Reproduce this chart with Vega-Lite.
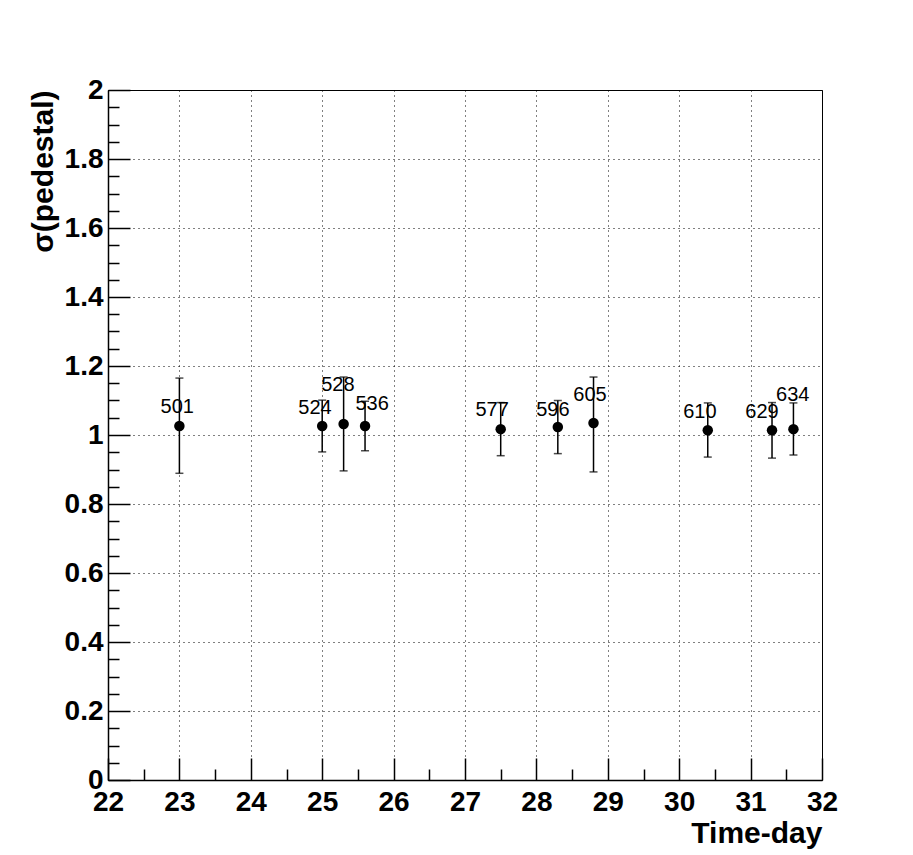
{
  "$schema": "https://vega.github.io/schema/vega-lite/v6.json",
  "width": 714,
  "height": 690,
  "autosize": "none",
  "padding": {"left": 108, "top": 90, "right": 91, "bottom": 75},
  "background": "white",
  "config": {
    "view": {"stroke": "#000", "strokeWidth": 1},
    "axis": {
      "domainColor": "#000",
      "domainWidth": 1.5,
      "tickColor": "#000",
      "tickWidth": 1.5,
      "labelFont": "Liberation Sans",
      "labelFontWeight": "bold",
      "labelFontSize": 28,
      "labelColor": "#000",
      "labelFlush": false,
      "labelOverlap": false,
      "titleFont": "Liberation Sans",
      "titleFontWeight": "bold",
      "titleFontSize": 30,
      "titleColor": "#000",
      "gridColor": "#000",
      "gridDash": [1, 4],
      "gridWidth": 1,
      "gridOpacity": 1
    }
  },
  "data": {
    "values": [
      {"day": 23.0, "sigma": 1.026, "lo": 0.889, "hi": 1.165, "run": "501", "lx": 22.97, "ly": 1.081},
      {"day": 25.0, "sigma": 1.026, "lo": 0.951, "hi": 1.101, "run": "524", "lx": 24.90, "ly": 1.078},
      {"day": 25.3, "sigma": 1.032, "lo": 0.896, "hi": 1.168, "run": "528", "lx": 25.22, "ly": 1.145},
      {"day": 25.6, "sigma": 1.026, "lo": 0.954, "hi": 1.098, "run": "536", "lx": 25.70, "ly": 1.090},
      {"day": 27.5, "sigma": 1.017, "lo": 0.940, "hi": 1.094, "run": "577", "lx": 27.38, "ly": 1.072},
      {"day": 28.3, "sigma": 1.023, "lo": 0.946, "hi": 1.100, "run": "596", "lx": 28.23, "ly": 1.072},
      {"day": 28.8, "sigma": 1.035, "lo": 0.893, "hi": 1.168, "run": "605", "lx": 28.75, "ly": 1.116},
      {"day": 30.4, "sigma": 1.014, "lo": 0.936, "hi": 1.093, "run": "610", "lx": 30.29, "ly": 1.067},
      {"day": 31.3, "sigma": 1.014, "lo": 0.933, "hi": 1.094, "run": "629", "lx": 31.16, "ly": 1.067},
      {"day": 31.6, "sigma": 1.017, "lo": 0.942, "hi": 1.093, "run": "634", "lx": 31.59, "ly": 1.116}
    ]
  },
  "resolve": {"axis": {"x": "independent", "y": "independent"}},
  "layer": [
    {
      "mark": {"type": "rule", "color": "#000", "strokeWidth": 1.5},
      "encoding": {
        "x": {"field": "day", "type": "quantitative",
          "scale": {"domain": [22, 32], "nice": false, "zero": false},
          "axis": {"orient": "bottom", "values": [22.5, 23.5, 24.5, 25.5, 26.5, 27.5, 28.5, 29.5, 30.5, 31.5],
            "tickSize": -11, "labels": false, "grid": false, "domain": false, "title": null}},
        "y": {"field": "lo", "type": "quantitative",
          "scale": {"domain": [0, 2], "nice": false},
          "axis": {"orient": "left", "values": [0.05, 0.1, 0.15, 0.25, 0.3, 0.35, 0.45, 0.5, 0.55, 0.65, 0.7, 0.75, 0.85, 0.9, 0.95, 1.05, 1.1, 1.15, 1.25, 1.3, 1.35, 1.45, 1.5, 1.55, 1.65, 1.7, 1.75, 1.85, 1.9, 1.95],
            "tickSize": -11, "labels": false, "grid": false, "domain": false, "title": null}},
        "y2": {"field": "hi"}
      }
    },
    {
      "mark": {"type": "tick", "orient": "horizontal", "color": "#000", "size": 8, "thickness": 1.5},
      "encoding": {
        "x": {"field": "day", "type": "quantitative", "axis": null},
        "y": {"field": "lo", "type": "quantitative", "axis": null}
      }
    },
    {
      "mark": {"type": "tick", "orient": "horizontal", "color": "#000", "size": 8, "thickness": 1.5},
      "encoding": {
        "x": {"field": "day", "type": "quantitative", "axis": null},
        "y": {"field": "hi", "type": "quantitative", "axis": null}
      }
    },
    {
      "mark": {"type": "circle", "color": "#000", "opacity": 1, "size": 110},
      "encoding": {
        "x": {"field": "day", "type": "quantitative",
          "axis": {"orient": "bottom", "values": [22, 23, 24, 25, 26, 27, 28, 29, 30, 31, 32], "format": "d",
            "tickSize": -22, "labelPadding": 30, "grid": true, "title": "Time-day",
            "titleAnchor": "end", "titleAlign": "right", "titlePadding": 2}},
        "y": {"field": "sigma", "type": "quantitative",
          "axis": {"orient": "left", "values": [0, 0.2, 0.4, 0.6, 0.8, 1, 1.2, 1.4, 1.6, 1.8, 2], "format": "~g",
            "tickSize": -22, "labelPadding": 27, "grid": true, "title": "σ(pedestal)",
            "titleAnchor": "end", "titleAlign": "right", "titlePadding": 6}}
      }
    },
    {
      "mark": {"type": "text", "color": "#000", "font": "Liberation Sans", "fontSize": 20, "align": "center", "baseline": "middle"},
      "encoding": {
        "x": {"field": "lx", "type": "quantitative", "axis": null},
        "y": {"field": "ly", "type": "quantitative", "axis": null},
        "text": {"field": "run"}
      }
    }
  ]
}
